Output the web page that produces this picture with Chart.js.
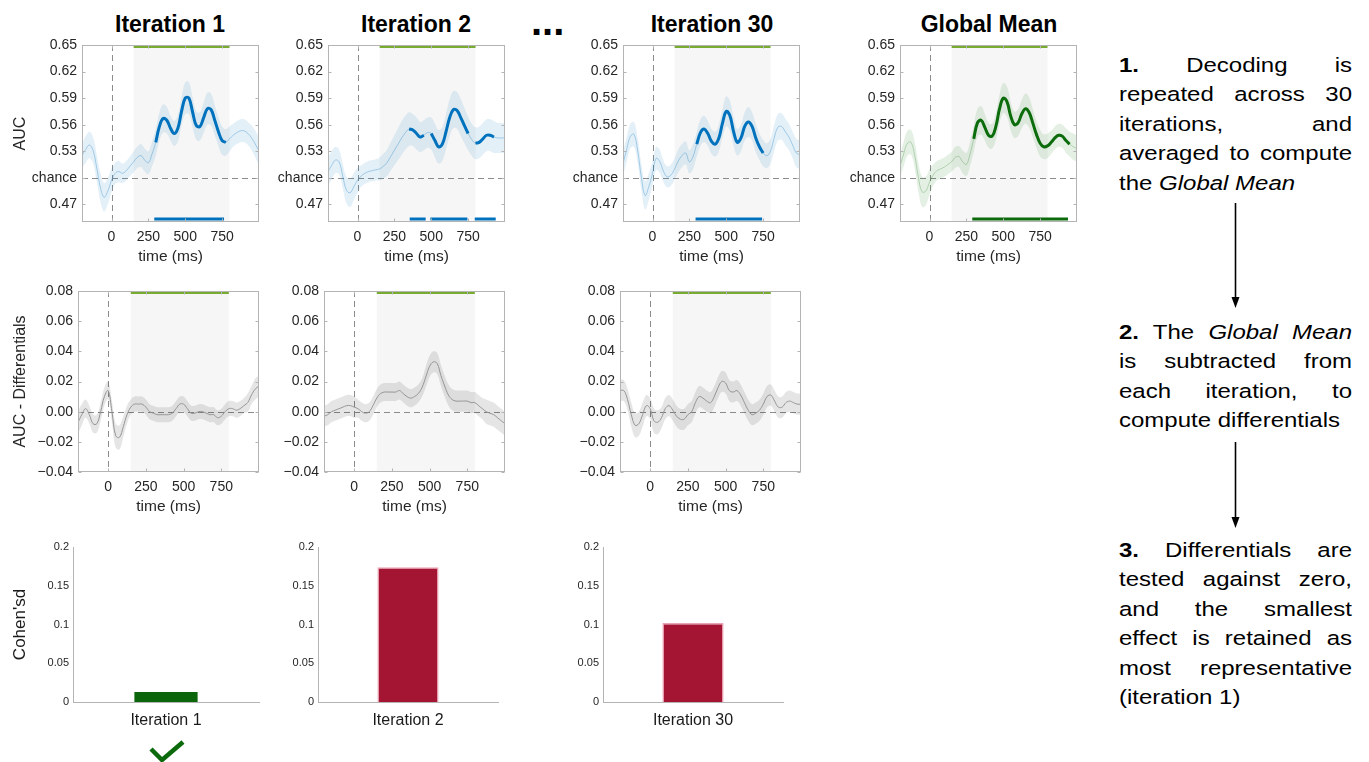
<!DOCTYPE html>
<html lang="en">
<head>
<meta charset="utf-8">
<title>Decoding iterations, differentials and effect sizes</title>
<script src="https://cdn.jsdelivr.net/npm/chart.js@4.4.1/dist/chart.umd.min.js"></script>
<style>
  html, body { margin: 0; padding: 0; background: #fff; }
  body { position: relative; width: 1369px; height: 762px; overflow: hidden;
         font-family: "Liberation Sans", Arial, Helvetica, sans-serif; color: #000; }
  canvas { position: absolute; }
  .panel-title { position: absolute; top: 11px; width: 240px; text-align: center;
                 font-weight: bold; font-size: 23px; line-height: 26px; }
  .ellipsis { position: absolute; left: 531px; top: 1px; font-weight: bold; font-size: 40px; line-height: 40px; }
  .step { position: absolute; left: 1119px; width: 233px; font-size: 24px; line-height: 33.4px;
          transform: scaleY(0.88); transform-origin: 0 0; }
  .step .j { text-align: justify; text-align-last: justify; }
  svg.overlay { position: absolute; left: 0; top: 0; z-index: 5; }
</style>
</head>
<body>

<div class="panel-title" style="left:50px">Iteration 1</div>
<div class="panel-title" style="left:296px">Iteration 2</div>
<div class="ellipsis">...</div>
<div class="panel-title" style="left:592px">Iteration 30</div>
<div class="panel-title" style="left:869px">Global Mean</div>

<div class="step" style="top:50px">
  <div class="j"><b>1.</b> Decoding is</div>
  <div class="j">repeated across 30</div>
  <div class="j">iterations, and</div>
  <div class="j">averaged to compute</div>
  <div>the <i>Global Mean</i></div>
</div>
<div class="step" style="top:317px">
  <div class="j"><b>2.</b> The <i>Global Mean</i></div>
  <div class="j">is subtracted from</div>
  <div class="j">each iteration, to</div>
  <div>compute differentials</div>
</div>
<div class="step" style="top:534.5px">
  <div class="j"><b>3.</b> Differentials are</div>
  <div class="j">tested against zero,</div>
  <div class="j">and the smallest</div>
  <div class="j">effect is retained as</div>
  <div class="j">most representative</div>
  <div>(iteration 1)</div>
</div>

<svg class="overlay" width="1369" height="762" viewBox="0 0 1369 762">
  <g stroke="#000" stroke-width="1.6" fill="#000">
    <line x1="1235.5" y1="203" x2="1235.5" y2="299"/>
    <polygon points="1231.5,297 1239.5,297 1235.5,308" stroke="none"/>
    <line x1="1235.5" y1="442" x2="1235.5" y2="519"/>
    <polygon points="1231.5,517 1239.5,517 1235.5,528" stroke="none"/>
  </g>
  <polyline points="151,749 162,760 183,742" fill="none" stroke="#0b6a0b" stroke-width="4.5"/>
</svg>

<script>
// ---- time axis (ms after stimulus onset) ----
const TIME = [-200, -175, -150, -125, -100, -75, -50, -25,
              0, 25, 50, 75, 100, 125, 150, 175,
              200, 225, 250, 275, 300, 325, 350, 375,
              400, 425, 450, 475, 500, 525, 550, 575,
              600, 625, 650, 675, 700, 725, 750, 775,
              800, 825, 850, 875, 900, 925, 950, 975,
              1000];
const TIME_TICKS = [0, 250, 500, 750];
const ANALYSIS_WINDOW = [150, 800];

// ---- decoding AUC (mean and s.e.m.) ----
const CHANCE = 0.5;
const AUC_TICKS = [0.47, 0.50, 0.53, 0.56, 0.59, 0.62, 0.65];
const AUC_WINDOW_BAR_Y = 0.6485;
const AUC_SIG_BAR_Y = 0.4535;

const ITER1_AUC = [0.525, 0.532, 0.537, 0.531, 0.511, 0.489, 0.478, 0.485,
                   0.497, 0.505, 0.507, 0.505, 0.508, 0.513, 0.518, 0.523,
                   0.525, 0.520, 0.517, 0.527, 0.540, 0.558, 0.567, 0.565,
                   0.556, 0.550, 0.556, 0.575, 0.590, 0.590, 0.574, 0.559,
                   0.558, 0.568, 0.578, 0.577, 0.565, 0.552, 0.542, 0.540,
                   0.544, 0.548, 0.551, 0.553, 0.553, 0.550, 0.545, 0.538,
                   0.530];
const ITER1_SEM = [0.014, 0.015, 0.015, 0.015, 0.015, 0.016, 0.016, 0.015,
                   0.013, 0.012, 0.012, 0.011, 0.011, 0.011, 0.012, 0.012,
                   0.013, 0.013, 0.013, 0.014, 0.015, 0.016, 0.016, 0.015,
                   0.014, 0.014, 0.015, 0.016, 0.018, 0.018, 0.017, 0.016,
                   0.016, 0.017, 0.018, 0.018, 0.017, 0.016, 0.016, 0.015,
                   0.014, 0.013, 0.013, 0.013, 0.013, 0.013, 0.014, 0.015,
                   0.016];
const ITER1_SIG = [[290, 763]];

const ITER2_AUC = [0.507, 0.514, 0.520, 0.518, 0.502, 0.486, 0.483, 0.490,
                   0.497, 0.502, 0.505, 0.507, 0.508, 0.509, 0.510, 0.513,
                   0.517, 0.524, 0.531, 0.538, 0.545, 0.551, 0.555, 0.554,
                   0.550, 0.546, 0.548, 0.551, 0.550, 0.542, 0.535, 0.538,
                   0.552, 0.568, 0.577, 0.576, 0.568, 0.559, 0.550, 0.543,
                   0.539, 0.540, 0.544, 0.548, 0.548, 0.546, 0.545, 0.545,
                   0.545];
const ITER2_SEM = [0.016, 0.016, 0.015, 0.014, 0.014, 0.015, 0.016, 0.015,
                   0.014, 0.012, 0.012, 0.012, 0.012, 0.012, 0.013, 0.014,
                   0.015, 0.016, 0.017, 0.018, 0.019, 0.019, 0.019, 0.018,
                   0.018, 0.017, 0.017, 0.017, 0.018, 0.019, 0.019, 0.019,
                   0.020, 0.021, 0.021, 0.021, 0.021, 0.020, 0.019, 0.018,
                   0.018, 0.018, 0.018, 0.018, 0.018, 0.018, 0.017, 0.017,
                   0.017];
const ITER2_SIG = [[354, 462], [494, 745], [795, 937]];

const ITER30_AUC = [0.516, 0.532, 0.547, 0.549, 0.530, 0.500, 0.480, 0.490,
                    0.505, 0.522, 0.518, 0.507, 0.501, 0.503, 0.510, 0.519,
                    0.525, 0.528, 0.518, 0.524, 0.538, 0.551, 0.555, 0.550,
                    0.541, 0.538, 0.545, 0.562, 0.575, 0.570, 0.552, 0.540,
                    0.545, 0.558, 0.563, 0.558, 0.545, 0.535, 0.528, 0.525,
                    0.530, 0.545, 0.557, 0.558, 0.552, 0.546, 0.537, 0.528,
                    0.526];
const ITER30_SEM = [0.014, 0.014, 0.014, 0.014, 0.014, 0.015, 0.016, 0.015,
                    0.014, 0.013, 0.013, 0.012, 0.012, 0.012, 0.012, 0.013,
                    0.013, 0.013, 0.013, 0.014, 0.014, 0.015, 0.015, 0.014,
                    0.014, 0.014, 0.015, 0.016, 0.017, 0.017, 0.016, 0.015,
                    0.015, 0.016, 0.017, 0.016, 0.016, 0.015, 0.015, 0.014,
                    0.014, 0.015, 0.015, 0.015, 0.015, 0.015, 0.015, 0.016,
                    0.016];
const ITER30_SIG = [[292, 743]];

const GLOBAL_AUC = [0.513, 0.527, 0.539, 0.540, 0.525, 0.500, 0.484, 0.485,
                    0.495, 0.503, 0.508, 0.510, 0.512, 0.515, 0.518, 0.523,
                    0.524, 0.518, 0.515, 0.527, 0.544, 0.562, 0.565, 0.557,
                    0.548, 0.547, 0.558, 0.578, 0.590, 0.586, 0.570, 0.560,
                    0.562, 0.572, 0.578, 0.574, 0.562, 0.549, 0.539, 0.535,
                    0.536, 0.540, 0.545, 0.548, 0.547, 0.542, 0.538, 0.535,
                    0.533];
const GLOBAL_SEM = [0.013, 0.014, 0.014, 0.014, 0.015, 0.016, 0.017, 0.016,
                    0.014, 0.012, 0.011, 0.011, 0.011, 0.011, 0.011, 0.012,
                    0.012, 0.013, 0.013, 0.014, 0.015, 0.016, 0.016, 0.015,
                    0.014, 0.014, 0.015, 0.016, 0.017, 0.017, 0.016, 0.015,
                    0.015, 0.016, 0.017, 0.017, 0.016, 0.015, 0.015, 0.014,
                    0.014, 0.013, 0.013, 0.013, 0.013, 0.014, 0.014, 0.015,
                    0.015];
const GLOBAL_SIG = [[290, 939]];

// ---- AUC differentials (iteration minus Global Mean) ----
const DIFF_TICKS = [-0.04, -0.02, 0.00, 0.02, 0.04, 0.06, 0.08];
const DIFF_WINDOW_BAR_Y = 0.0791;

const ITER1_DIFF = [-0.007, -0.002, 0.002, -0.002, -0.008, -0.008, 0.000, 0.010,
                    0.014, 0.000, -0.016, -0.017, -0.010, -0.002, 0.003, 0.005,
                    0.005, 0.005, 0.003, 0.000, -0.001, -0.002, -0.002, -0.002,
                    -0.002, -0.001, 0.002, 0.005, 0.005, 0.002, -0.001, -0.001,
                    0.000, 0.000, -0.001, -0.002, -0.002, -0.004, -0.003, 0.000,
                    0.002, 0.002, 0.001, 0.002, 0.004, 0.006, 0.011, 0.015,
                    0.017];
const ITER1_DIFF_SEM = [0.008, 0.007, 0.006, 0.006, 0.006, 0.006, 0.006, 0.006,
                        0.006, 0.007, 0.008, 0.008, 0.007, 0.006, 0.005, 0.005,
                        0.005, 0.005, 0.005, 0.005, 0.005, 0.005, 0.005, 0.005,
                        0.005, 0.005, 0.005, 0.005, 0.005, 0.005, 0.005, 0.005,
                        0.005, 0.005, 0.005, 0.005, 0.005, 0.005, 0.005, 0.005,
                        0.005, 0.005, 0.005, 0.005, 0.005, 0.006, 0.006, 0.007,
                        0.007];

const ITER2_DIFF = [-0.003, -0.002, 0.000, 0.001, 0.002, 0.003, 0.004, 0.004,
                    0.003, 0.002, 0.000, -0.001, 0.000, 0.004, 0.009, 0.012,
                    0.013, 0.013, 0.013, 0.013, 0.014, 0.012, 0.010, 0.009,
                    0.010, 0.012, 0.016, 0.023, 0.030, 0.033, 0.032, 0.024,
                    0.017, 0.011, 0.008, 0.007, 0.007, 0.007, 0.007, 0.006,
                    0.006, 0.004, 0.002, 0.000, -0.001, -0.002, -0.004, -0.006,
                    -0.008];
const ITER2_DIFF_SEM = [0.007, 0.007, 0.007, 0.007, 0.007, 0.007, 0.007, 0.007,
                        0.007, 0.006, 0.006, 0.006, 0.006, 0.006, 0.006, 0.006,
                        0.006, 0.006, 0.006, 0.006, 0.006, 0.006, 0.006, 0.006,
                        0.006, 0.006, 0.006, 0.007, 0.007, 0.007, 0.007, 0.007,
                        0.007, 0.007, 0.007, 0.007, 0.007, 0.007, 0.007, 0.007,
                        0.007, 0.007, 0.007, 0.008, 0.008, 0.008, 0.008, 0.008,
                        0.008];

const ITER30_DIFF = [0.014, 0.014, 0.008, -0.002, -0.009, -0.008, -0.002, 0.004,
                     0.002, -0.006, -0.007, -0.004, 0.002, 0.004, 0.001, -0.003,
                     -0.005, -0.005, -0.002, 0.000, 0.006, 0.010, 0.009, 0.007,
                     0.006, 0.010, 0.016, 0.020, 0.019, 0.014, 0.013, 0.014,
                     0.011, 0.006, 0.001, -0.002, -0.001, 0.001, 0.005, 0.010,
                     0.011, 0.007, 0.003, 0.003, 0.006, 0.007, 0.006, 0.005,
                     0.005];
const ITER30_DIFF_SEM = [0.007, 0.007, 0.007, 0.008, 0.008, 0.008, 0.008, 0.007,
                         0.007, 0.008, 0.008, 0.007, 0.007, 0.007, 0.007, 0.007,
                         0.007, 0.007, 0.007, 0.007, 0.007, 0.007, 0.007, 0.007,
                         0.007, 0.007, 0.007, 0.007, 0.007, 0.007, 0.007, 0.007,
                         0.007, 0.007, 0.007, 0.007, 0.007, 0.007, 0.007, 0.007,
                         0.007, 0.007, 0.007, 0.007, 0.007, 0.007, 0.007, 0.007,
                         0.007];

// ---- effect size of each differential against zero ----
const COHEN_LABELS = ['Iteration 1', 'Iteration 2', 'Iteration 30'];
const COHEN_D = [0.013, 0.174, 0.102];
const COHEN_TICKS = [0, 0.05, 0.1, 0.15, 0.2];

// ---- shared style ----
const FONT = '"Liberation Sans", Arial, Helvetica, sans-serif';
Chart.defaults.font.family = FONT;
Chart.defaults.color = '#262626';
Chart.defaults.animation = false;
Chart.defaults.responsive = false;
Chart.defaults.events = [];
Chart.defaults.plugins.legend.display = false;
Chart.defaults.plugins.tooltip.enabled = false;

const BLUE = { band: 'rgba(0,114,189,0.11)', thin: 'rgba(0,114,189,0.30)', bold: '#0072bd', sig: '#0072bd' };
const GREEN = { band: 'rgba(20,120,20,0.11)', thin: 'rgba(20,120,20,0.25)', bold: '#0b6a0b', sig: '#0b6a0b' };
const GREY = { band: 'rgba(0,0,0,0.10)', thin: '#a6a6a6' };
const WINDOW_GREEN = '#77ac30';
const FRAME_GREY = '#b4b4b4';
const TRANSPARENT = 'rgba(0,0,0,0)';

// Axes box, analysis-window shading and dashed reference lines.
const framePlugin = {
  id: 'frame',
  beforeDatasetsDraw(chart, _args, o) {
    const { ctx, chartArea: a, scales: { x, y } } = chart;
    ctx.save();
    if (o.window) {
      const x0 = x.getPixelForValue(o.window[0]);
      const x1 = x.getPixelForValue(o.window[1]);
      ctx.fillStyle = '#f6f6f6';
      ctx.fillRect(x0, a.top, x1 - x0, a.bottom - a.top);
    }
    ctx.strokeStyle = '#8c8c8c';
    ctx.lineWidth = 1;
    ctx.setLineDash([6, 4]);
    if (o.hRef !== undefined) {
      const py = Math.round(y.getPixelForValue(o.hRef)) + 0.5;
      ctx.beginPath(); ctx.moveTo(a.left, py); ctx.lineTo(a.right, py); ctx.stroke();
    }
    if (o.vRef !== undefined) {
      const px = Math.round(x.getPixelForValue(o.vRef)) + 0.5;
      ctx.beginPath(); ctx.moveTo(px, a.top); ctx.lineTo(px, a.bottom); ctx.stroke();
    }
    ctx.restore();
  },
  afterDraw(chart) {
    const { ctx, chartArea: a, scales: { x, y } } = chart;
    const l = Math.round(a.left) + 0.5, r = Math.round(a.right) - 0.5;
    const t = Math.round(a.top) + 0.5, b = Math.round(a.bottom) - 0.5;
    ctx.save();
    ctx.strokeStyle = FRAME_GREY;
    ctx.lineWidth = 1;
    ctx.strokeRect(l, t, r - l, b - t);
    ctx.beginPath();
    y.ticks.forEach(tk => {
      const py = Math.round(y.getPixelForValue(tk.value)) + 0.5;
      ctx.moveTo(l, py); ctx.lineTo(l + 3, py);
      ctx.moveTo(r, py); ctx.lineTo(r - 3, py);
    });
    x.ticks.forEach(tk => {
      const px = Math.round(x.getPixelForValue(tk.value)) + 0.5;
      ctx.moveTo(px, b); ctx.lineTo(px, b - 3);
      ctx.moveTo(px, t); ctx.lineTo(px, t + 3);
    });
    ctx.stroke();
    ctx.restore();
  }
};

const overlay = document.querySelector('svg.overlay');
function makeCanvas(left, top, width, height) {
  const c = document.createElement('canvas');
  c.width = width; c.height = height;
  c.style.left = left + 'px'; c.style.top = top + 'px';
  c.style.width = width + 'px'; c.style.height = height + 'px';
  document.body.insertBefore(c, overlay);
  return c;
}

const series = vals => TIME.map((t, i) => ({ x: t, y: vals[i] }));
const shifted = (vals, sem, sign) => TIME.map((t, i) => ({ x: t, y: vals[i] + sign * sem[i] }));
const inSegments = (t, segs) => segs.some(([a, b]) => t >= a - 12.5 && t <= b + 12.5);
const boldSeries = (vals, segs) => TIME.map((t, i) => ({ x: t, y: inSegments(t, segs) ? vals[i] : null }));
const segmentBars = (segs, yVal) => {
  const out = [];
  segs.forEach(([a, b]) => out.push({ x: a, y: yVal }, { x: b, y: yVal }, { x: b, y: null }));
  return out;
};

// One time-resolved panel (AUC or differential).
function timePanel(s) {
  const PT = 12, PR = 8, XH = 46;
  const canvas = makeCanvas(s.left - s.yw, s.top - PT, s.yw + s.w + PR, PT + s.h + XH);
  const curve = { pointRadius: 0, tension: 0.4, fill: false };
  const datasets = [
    Object.assign({ data: shifted(s.mean, s.sem, -1), borderColor: TRANSPARENT, borderWidth: 0 }, curve),
    Object.assign({}, curve, { data: shifted(s.mean, s.sem, 1), borderColor: TRANSPARENT, borderWidth: 0,
                               fill: '-1', backgroundColor: s.colors.band }),
    Object.assign({ data: series(s.mean), borderColor: s.colors.thin, borderWidth: 1 }, curve)
  ];
  if (s.sig) {
    datasets.push(Object.assign({ data: boldSeries(s.mean, s.sig), borderColor: s.colors.bold,
                                  borderWidth: 3, spanGaps: false }, curve));
    datasets.push({ data: segmentBars(s.sig, AUC_SIG_BAR_Y), borderColor: s.colors.sig, borderWidth: 3,
                    pointRadius: 0, tension: 0, spanGaps: false });
  }
  datasets.push({ data: segmentBars([ANALYSIS_WINDOW], s.windowY), borderColor: WINDOW_GREEN,
                  borderWidth: 3.5, pointRadius: 0, tension: 0 });

  new Chart(canvas, {
    type: 'line',
    data: { datasets },
    options: {
      layout: { padding: { top: PT, right: PR, left: 0, bottom: 0 } },
      scales: {
        x: {
          type: 'linear', min: -200, max: 1000,
          afterBuildTicks: sc => { sc.ticks = TIME_TICKS.map(v => ({ value: v })); },
          ticks: { font: { size: 14 }, padding: 7, maxRotation: 0, autoSkip: false },
          grid: { display: false, drawTicks: false }, border: { display: false },
          title: { display: true, text: 'time (ms)', font: { size: 15.5 }, color: '#262626',
                   padding: { top: 0, bottom: 2 } },
          afterFit: sc => { sc.height = XH; sc.paddingLeft = 0; sc.paddingRight = 0; }
        },
        y: {
          min: s.yMin, max: s.yMax,
          afterBuildTicks: sc => { sc.ticks = s.yTicks.map(v => ({ value: v })); },
          ticks: { font: { size: 14 }, padding: 5, callback: s.yFormat },
          grid: { display: false, drawTicks: false }, border: { display: false },
          title: { display: !!s.yTitle, text: s.yTitle || '', font: { size: 16 }, color: '#262626',
                   padding: { top: 11, bottom: 0 } },
          afterFit: sc => { sc.width = s.yw; sc.paddingTop = 0; sc.paddingBottom = 0; }
        }
      },
      plugins: { frame: { window: ANALYSIS_WINDOW, hRef: s.hRef, vRef: 0 } }
    },
    plugins: [framePlugin]
  });
}

// One Cohen's d panel.
function cohenPanel(s) {
  const PT = 10, PR = 4, XH = 34;
  const canvas = makeCanvas(s.left - s.yw, s.top - PT, s.yw + s.w + PR, PT + s.h + XH);
  new Chart(canvas, {
    type: 'bar',
    data: {
      labels: [COHEN_LABELS[s.index]],
      datasets: [{ data: [COHEN_D[s.index]], backgroundColor: s.fill, borderColor: s.edge,
                   borderWidth: s.edgeWidth, barPercentage: 0.34, categoryPercentage: 1 }]
    },
    options: {
      layout: { padding: { top: PT, right: PR, left: 0, bottom: 0 } },
      scales: {
        x: {
          grid: { display: false, drawTicks: false }, border: { display: true, color: FRAME_GREY },
          ticks: { font: { size: 16 }, color: '#1a1a1a', padding: 9 },
          afterFit: sc => { sc.height = XH; sc.paddingLeft = 0; sc.paddingRight = 0; }
        },
        y: {
          min: 0, max: 0.2,
          afterBuildTicks: sc => { sc.ticks = COHEN_TICKS.map(v => ({ value: v })); },
          ticks: { font: { size: 11 }, padding: 4, callback: v => String(+v.toFixed(2)) },
          grid: { display: false, drawTicks: false }, border: { display: true, color: FRAME_GREY },
          title: { display: !!s.yTitle, text: s.yTitle || '', font: { size: 17 }, color: '#1a1a1a',
                   padding: { top: 10, bottom: 0 } },
          afterFit: sc => { sc.width = s.yw; sc.paddingTop = 0; sc.paddingBottom = 0; }
        }
      }
    }
  });
}

const aucFormat = v => (Math.abs(v - CHANCE) < 1e-9 ? 'chance' : v.toFixed(2));
const diffFormat = v => (v < -1e-9 ? '\u2212' : '') + Math.abs(v).toFixed(2);

// Row 1: decoding AUC
const aucRow = { top: 45, w: 177, h: 177, yMin: 0.45, yMax: 0.65, yTicks: AUC_TICKS, yFormat: aucFormat,
                 hRef: CHANCE, windowY: AUC_WINDOW_BAR_Y };
timePanel(Object.assign({}, aucRow, { left: 82, yw: 82, yTitle: 'AUC', mean: ITER1_AUC, sem: ITER1_SEM, sig: ITER1_SIG, colors: BLUE }));
timePanel(Object.assign({}, aucRow, { left: 328, yw: 60, mean: ITER2_AUC, sem: ITER2_SEM, sig: ITER2_SIG, colors: BLUE }));
timePanel(Object.assign({}, aucRow, { left: 623, yw: 60, mean: ITER30_AUC, sem: ITER30_SEM, sig: ITER30_SIG, colors: BLUE }));
timePanel(Object.assign({}, aucRow, { left: 900, yw: 60, mean: GLOBAL_AUC, sem: GLOBAL_SEM, sig: GLOBAL_SIG, colors: GREEN }));

// Row 2: differentials
const diffRow = { top: 291, w: 181, h: 181, yMin: -0.04, yMax: 0.08, yTicks: DIFF_TICKS, yFormat: diffFormat,
                  hRef: 0, windowY: DIFF_WINDOW_BAR_Y, colors: GREY };
timePanel(Object.assign({}, diffRow, { left: 78, yw: 78, yTitle: 'AUC - Differentials', mean: ITER1_DIFF, sem: ITER1_DIFF_SEM }));
timePanel(Object.assign({}, diffRow, { left: 324, yw: 60, mean: ITER2_DIFF, sem: ITER2_DIFF_SEM }));
timePanel(Object.assign({}, diffRow, { left: 620, yw: 60, mean: ITER30_DIFF, sem: ITER30_DIFF_SEM }));

// Row 3: Cohen's d
cohenPanel({ index: 0, left: 73, top: 547, w: 186, h: 155, yw: 73, yTitle: "Cohen'sd",
             fill: '#0b660b', edge: '#0b660b', edgeWidth: 0 });
cohenPanel({ index: 1, left: 318, top: 547, w: 180, h: 155, yw: 40,
             fill: '#a31532', edge: '#eaa3b4', edgeWidth: 1.5 });
cohenPanel({ index: 2, left: 603, top: 547, w: 180, h: 155, yw: 40,
             fill: '#a31532', edge: '#eaa3b4', edgeWidth: 1.5 });
</script>
</body>
</html>
